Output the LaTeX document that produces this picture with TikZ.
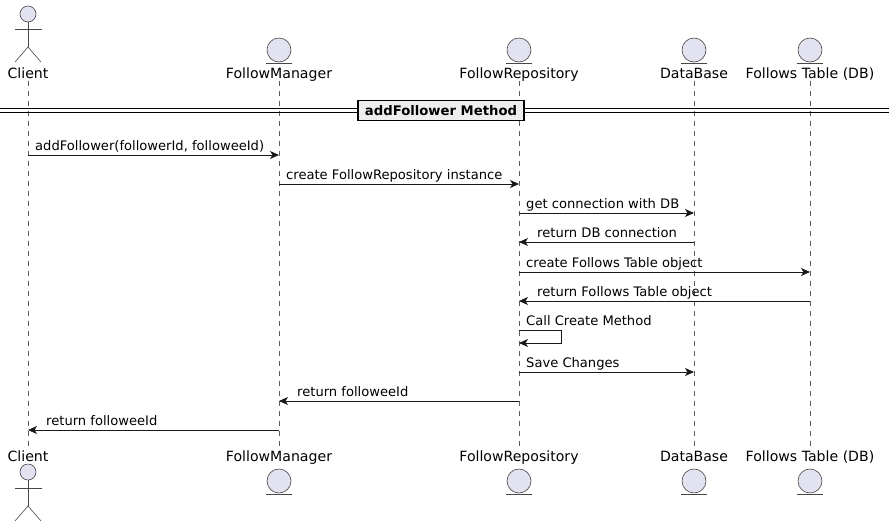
\documentclass[tikz,border=0pt]{standalone}
\usepackage{fontspec}
\setmainfont{DejaVu Sans}
\usetikzlibrary{arrows.meta,calc}
\definecolor{partfill}{HTML}{E2E2F0}
\definecolor{partdraw}{HTML}{181818}
\definecolor{lifeline}{HTML}{181818}
\definecolor{divfill}{HTML}{EEEEEE}
\begin{document}
\begin{tikzpicture}[x=1pt,y=-1pt,
  pname/.style={font=\fontsize{14.1}{16}\selectfont, inner sep=0pt, anchor=base},
  msgtxt/.style={font=\fontsize{13.1}{15}\selectfont, inner sep=0pt, anchor=base west},
  msg/.style={draw=partdraw, line width=0.8pt, -{Stealth[length=9pt,width=8pt,inset=2.5pt]}},
  life/.style={draw=lifeline!70, line width=0.5pt, dash pattern=on 5pt off 5pt},
  ent/.style={circle, draw=partdraw!80, fill=partfill, minimum size=24pt, inner sep=0pt, line width=0.6pt},
  head/.style={circle, draw=partdraw!80, fill=partfill, minimum size=16pt, inner sep=0pt, line width=0.6pt},
  limb/.style={draw=partdraw!80, line width=0.6pt},
  divbox/.style={draw=black, fill=divfill, line width=1.5pt, inner xsep=7pt, minimum height=20pt, font=\bfseries\fontsize{13.2}{15}\selectfont}
]
\useasboundingbox (0,0) rectangle (889,528);
\fill[white] (0,0) rectangle (889,528);

% lifeline x positions
\coordinate (cl) at (28,0);
\coordinate (fm) at (279,0);
\coordinate (fr) at (519,0);
\coordinate (db) at (694,0);
\coordinate (ft) at (810,0);

% lifelines
\coordinate (clT) at (28,81);  \coordinate (clB) at (28,446);
\coordinate (fmT) at (279,81); \coordinate (fmB) at (279,446);
\coordinate (frT) at (519,81); \coordinate (frB) at (519,446);
\coordinate (dbT) at (694,81); \coordinate (dbB) at (694,446);
\coordinate (ftT) at (810,81); \coordinate (ftB) at (810,446);
\draw[life] (clT) -- (clB);
\draw[life] (fmT) -- (fmB);
\draw[life] (frT) -- (frB);
\draw[life] (dbT) -- (dbB);
\draw[life] (ftT) -- (ftB);

% top participants
\node[head] (clHead) at (28,14) {};
\draw[limb] (clHead.south) -- (28,47) coordinate (clHip);
\draw[limb] (15,29) -- (42,29);
\draw[limb] (15,62) -- (clHip) -- (41,62);
\node[pname] (clLab) at (28,78) {Client};

\node[ent] (fmIcon) at (279,50) {};
\draw[limb] (266,63) -- (292,63);
\node[pname] (fmLab) at (279,78) {FollowManager};

\node[ent] (frIcon) at (519,50) {};
\draw[limb] (506,63) -- (532,63);
\node[pname] (frLab) at (519,78) {FollowRepository};

\node[ent] (dbIcon) at (694,50) {};
\draw[limb] (681,63) -- (707,63);
\node[pname] (dbLab) at (694,78) {DataBase};

\node[ent] (ftIcon) at (810,50) {};
\draw[limb] (797,63) -- (823,63);
\node[pname] (ftLab) at (810,78) {Follows Table (DB)};

% bottom participants
\node[pname] (clLab2) at (28,461) {Client};
\node[head] (clHead2) at (28,472) {};
\draw[limb] (clHead2.south) -- (28,506) coordinate (clHip2);
\draw[limb] (15,488) -- (42,488);
\draw[limb] (15,521) -- (clHip2) -- (41,521);

\node[pname] (fmLab2) at (279,461) {FollowManager};
\node[ent] (fmIcon2) at (279,481) {};
\draw[limb] (266,494) -- (292,494);

\node[pname] (frLab2) at (519,461) {FollowRepository};
\node[ent] (frIcon2) at (519,481) {};
\draw[limb] (506,494) -- (532,494);

\node[pname] (dbLab2) at (694,461) {DataBase};
\node[ent] (dbIcon2) at (694,481) {};
\draw[limb] (681,494) -- (707,494);

\node[pname] (ftLab2) at (810,461) {Follows Table (DB)};
\node[ent] (ftIcon2) at (810,481) {};
\draw[limb] (797,494) -- (823,494);

% divider
\draw[black, line width=1pt] (0,108.5) -- (889,108.5);
\draw[black, line width=1pt] (0,112) -- (889,112);
\node[divbox] (div) at (441,110.5) {addFollower Method};

% messages
\draw[msg] (cl |- 0,155) -- (fm |- 0,155);
\node[msgtxt] (m1) at (35,150) {addFollower(followerId, followeeId)};

\draw[msg] (fm |- 0,184) -- (fr |- 0,184);
\node[msgtxt] (m2) at (286,179) {create FollowRepository instance};

\draw[msg] (fr |- 0,213) -- (db |- 0,213);
\node[msgtxt] (m3) at (526,208) {get connection with DB};

\draw[msg] (db |- 0,242) -- (fr |- 0,242);
\node[msgtxt] (m4) at (537,237) {return DB connection};

\draw[msg] (fr |- 0,272) -- (ft |- 0,272);
\node[msgtxt] (m5) at (526,267) {create Follows Table object};

\draw[msg] (ft |- 0,301) -- (fr |- 0,301);
\node[msgtxt] (m6) at (537,296) {return Follows Table object};

\draw[msg] (fr |- 0,330) -- (561,330) -- (561,343) -- (fr |- 0,343);
\node[msgtxt] (m7) at (526,325) {Call Create Method};

\draw[msg] (fr |- 0,372) -- (db |- 0,372);
\node[msgtxt] (m8) at (526,367) {Save Changes};

\draw[msg] (fr |- 0,401) -- (fm |- 0,401);
\node[msgtxt] (m9) at (297,396) {return followeeId};

\draw[msg] (fm |- 0,430) -- (cl |- 0,430);
\node[msgtxt] (m10) at (46,425) {return followeeId};
\end{tikzpicture}
\end{document}
